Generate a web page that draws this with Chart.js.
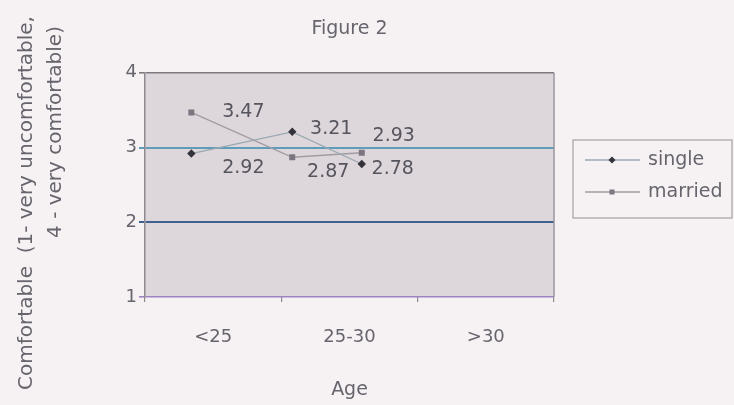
<!DOCTYPE html>
<html>
<head>
<meta charset="utf-8">
<script src="https://cdn.jsdelivr.net/npm/chart.js@4/dist/chart.umd.min.js"></script>
<style>
  html, body { margin: 0; padding: 0; background: #f6f2f4; }
  #wrap { width: 734px; height: 405px; }
</style>
</head>
<body>
<div id="wrap"><canvas id="chart" width="734" height="405"></canvas></div>
<script>
// Age groups shown along the horizontal axis
const ageGroups = ['<25', '25-30', '>30'];
// Where each group's point sits on the (hidden) numeric age axis, 0..3
const ageAxisValues = [0.34, 1.08, 1.59];
// Mean comfort score per age group
const singleValues = [2.92, 3.21, 2.78];
const marriedValues = [3.47, 2.87, 2.93];
// Comfort scale ticks
const comfortTicks = [1, 2, 3, 4];

const FONT = 'DejaVu Sans';
const TEXT = '#66646c';

const gridColors = { 1: '#9c84c2', 2: '#3f5f8c', 3: '#5e9cba', 4: '#7c7a80' };

// Label placement next to each point, in pixels
const labelOffsets = {
  single:  [[52, 15], [39, -3], [31, 5]],
  married: [[52, 0], [36, 15], [32, -17]]
};

const toPoints = vals => vals.map((v, i) => ({ x: ageAxisValues[i], y: v }));

const plotFrame = {
  id: 'plotFrame',
  beforeDraw(chart) {
    const { ctx, chartArea: a } = chart;
    ctx.save();
    ctx.fillStyle = '#ddd6db';
    ctx.fillRect(a.left, a.top, a.right - a.left, a.bottom - a.top);
    ctx.restore();
  },
  afterDraw(chart) {
    const { ctx, chartArea: a } = chart;
    ctx.save();
    ctx.strokeStyle = '#9a979c';
    ctx.lineWidth = 1.5;
    ctx.beginPath();
    ctx.moveTo(a.right, a.top);
    ctx.lineTo(a.right, a.bottom);
    ctx.stroke();
    ctx.restore();
  }
};

const valueLabels = {
  id: 'valueLabels',
  afterDatasetsDraw(chart) {
    const { ctx } = chart;
    ctx.save();
    ctx.font = '19px "' + FONT + '"';
    ctx.fillStyle = '#56555e';
    ctx.textAlign = 'center';
    ctx.textBaseline = 'middle';
    chart.data.datasets.forEach((ds, di) => {
      const meta = chart.getDatasetMeta(di);
      const offs = labelOffsets[ds.label];
      meta.data.forEach((pt, i) => {
        const v = ds.data[i].y;
        ctx.fillText(v.toFixed(2), pt.x + offs[i][0], pt.y + offs[i][1]);
      });
    });
    ctx.restore();
  }
};

const yTitle = {
  id: 'yTitle',
  afterDraw(chart) {
    const { ctx } = chart;
    const lines = [
      { text: 'Comfortable  (1- very uncomfortable,', x: 27, y: 203 },
      { text: '4 - very comfortable)', x: 56, y: 132 }
    ];
    ctx.save();
    ctx.font = '20px "' + FONT + '"';
    ctx.fillStyle = TEXT;
    ctx.textAlign = 'center';
    ctx.textBaseline = 'middle';
    lines.forEach(l => {
      ctx.save();
      ctx.translate(l.x, l.y);
      ctx.rotate(-Math.PI / 2);
      ctx.fillText(l.text, 0, 0);
      ctx.restore();
    });
    ctx.restore();
  }
};

const boxedLegend = {
  id: 'boxedLegend',
  afterDraw(chart) {
    const { ctx } = chart;
    const box = { x: 573, y: 140, w: 159, h: 78 };
    ctx.save();
    ctx.strokeStyle = '#a3a0a6';
    ctx.lineWidth = 1.2;
    ctx.strokeRect(box.x, box.y, box.w, box.h);
    ctx.font = '19px "' + FONT + '"';
    ctx.textBaseline = 'middle';
    ctx.textAlign = 'left';
    chart.data.datasets.forEach((ds, i) => {
      const y = box.y + 20 + i * 32;
      ctx.strokeStyle = ds.borderColor;
      ctx.lineWidth = 1.5;
      ctx.beginPath();
      ctx.moveTo(box.x + 12, y);
      ctx.lineTo(box.x + 67, y);
      ctx.stroke();
      ctx.fillStyle = ds.pointBackgroundColor;
      ctx.save();
      ctx.translate(box.x + 39, y);
      if (ds.pointStyle === 'rectRot') ctx.rotate(Math.PI / 4);
      ctx.fillRect(-2.5, -2.5, 5, 5);
      ctx.restore();
      ctx.fillStyle = TEXT;
      ctx.fillText(ds.label, box.x + 75, y);
    });
    ctx.restore();
  }
};

new Chart(document.getElementById('chart'), {
  type: 'line',
  data: {
    datasets: [
      {
        label: 'single',
        data: toPoints(singleValues),
        borderColor: '#9aa8b2',
        borderWidth: 1.3,
        pointStyle: 'rectRot',
        pointRadius: 3.3,
        pointBackgroundColor: '#34333b',
        pointBorderColor: '#34333b',
        tension: 0
      },
      {
        label: 'married',
        data: toPoints(marriedValues),
        borderColor: '#a19ca3',
        borderWidth: 1.3,
        pointStyle: 'rect',
        pointRadius: 3.3,
        pointBackgroundColor: '#7b7680',
        pointBorderColor: '#7b7680',
        tension: 0
      }
    ]
  },
  options: {
    responsive: false,
    devicePixelRatio: 1,
    animation: false,
    layout: { padding: { left: 0, right: 180, top: 0, bottom: 0 } },
    font: { family: FONT },
    plugins: {
      legend: { display: false },
      tooltip: { enabled: false },
      title: {
        display: true,
        fullSize: false,
        text: 'Figure 2',
        color: TEXT,
        font: { family: FONT, size: 19, weight: 'normal' },
        padding: { top: 18, bottom: 32 }
      }
    },
    scales: {
      x: {
        type: 'linear',
        min: 0,
        max: 3,
        display: false
      },
      xc: {
        type: 'category',
        labels: ageGroups,
        position: 'bottom',
        offset: true,
        grid: { offset: true, drawOnChartArea: false, tickLength: 5, color: '#8d8a90', lineWidth: 1.2 },
        border: { display: false },
        ticks: { padding: 25, color: TEXT, font: { family: FONT, size: 18 } },
        title: { display: true, text: 'Age', color: TEXT, font: { family: FONT, size: 19 }, padding: { top: 0, bottom: 4 } },
        afterFit(s) { s.height = 108; }
      },
      y: {
        min: 1,
        max: 4,
        afterBuildTicks(s) { s.ticks = comfortTicks.map(v => ({ value: v })); },
        ticks: { stepSize: 1, padding: 2, color: TEXT, font: { family: FONT, size: 18 } },
        grid: {
          color: c => gridColors[c.tick.value] || '#888',
          lineWidth: c => (c.tick.value === 2 || c.tick.value === 3) ? 2 : 1.6,
          tickLength: 6
        },
        border: { color: '#8d8a90', width: 1.5 },
        afterFit(s) { s.width = 145; }
      }
    }
  },
  plugins: [plotFrame, valueLabels, yTitle, boxedLegend]
});
</script>
</body>
</html>
